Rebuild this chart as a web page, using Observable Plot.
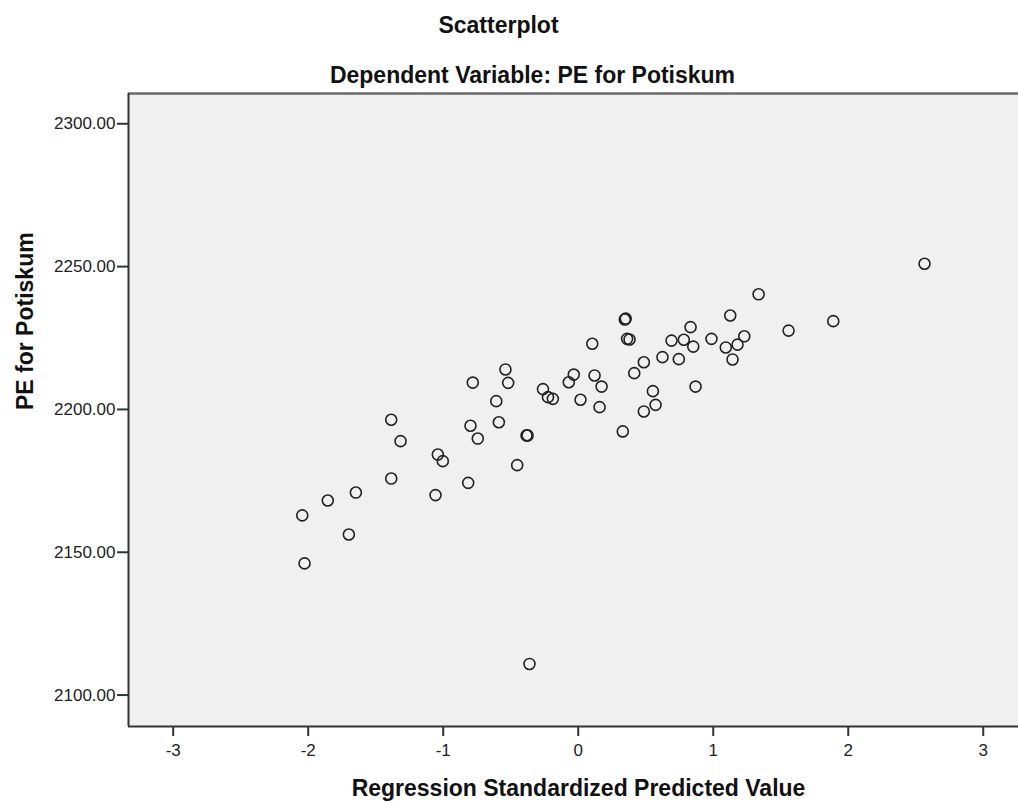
<!DOCTYPE html>
<html>
<head>
<meta charset="utf-8">
<script src="https://cdn.jsdelivr.net/npm/d3@7"></script>
<script src="https://cdn.jsdelivr.net/npm/@observablehq/plot@0.6"></script>
<style>
  html, body { margin: 0; padding: 0; background: #fff; }
</style>
</head>
<body>
<div id="chart"></div>
<script>
// Regression standardized predicted value (x) and PE for Potiskum (y)
const predicted = [
  2.565, 1.336, 1.126, 1.889, 1.558, 0.987, 1.230, 1.093, 1.180, 1.143,
  0.869, 0.345, 0.352, 0.104, 0.362, 0.380, 0.832, 0.691, 0.782, 0.852,
  0.624, 0.745, 0.486, 0.415, -0.033, -0.070, 0.121, 0.173, 0.553, 0.017,
  0.158, 0.573, 0.486, 0.330, -0.539, -0.781, -0.519, -0.607, -0.261, -0.224,
  -0.188, -1.385, -1.316, -0.798, -0.744, -0.588, -0.383, -0.375, -1.040, -1.003,
  -0.452, -1.385, -0.815, -1.057, -1.647, -1.855, -2.044, -1.699, -2.027, -0.361
];
const pe = [
  2251.0, 2240.3, 2232.9, 2230.9, 2227.6, 2224.7, 2225.6, 2221.7, 2222.7, 2217.5,
  2208.0, 2231.5, 2231.8, 2223.0, 2224.7, 2224.5, 2228.8, 2224.1, 2224.4, 2222.0,
  2218.3, 2217.6, 2216.5, 2212.7, 2212.2, 2209.5, 2211.9, 2208.0, 2206.4, 2203.4,
  2200.8, 2201.6, 2199.3, 2192.3, 2214.0, 2209.4, 2209.3, 2202.9, 2207.1, 2204.3,
  2203.7, 2196.4, 2188.9, 2194.3, 2189.8, 2195.5, 2190.9, 2190.9, 2184.2, 2181.9,
  2180.5, 2175.8, 2174.3, 2170.0, 2170.9, 2168.1, 2162.9, 2156.2, 2146.1, 2110.9
];
const xTicks = [-3, -2, -1, 0, 1, 2, 3];
const yTicks = [2100, 2150, 2200, 2250, 2300];
const xDomain = [-3.331, 3.261];
const yDomain = [2089.0, 2310.6];
const title = "Scatterplot";
const subtitle = "Dependent Variable: PE for Potiskum";
const xLabel = "Regression Standardized Predicted Value";
const yLabel = "PE for Potiskum";

const data = predicted.map((x, i) => ({x, y: pe[i]}));
const font = "'Liberation Sans', Arial, sans-serif";

const chart = Plot.plot({
  width: 1018,
  height: 802,
  marginTop: 93,
  marginRight: 0,
  marginBottom: 76,
  marginLeft: 128,
  style: {fontFamily: font, background: "#fff", color: "#222"},
  x: {domain: xDomain},
  y: {domain: yDomain},
  marks: [
    Plot.frame({fill: "#f0f0f0", stroke: null}),
    Plot.ruleY([yDomain[1]], {stroke: "#6a6a6a", strokeWidth: 2.5}),
    Plot.axisX({ticks: xTicks, tickSize: 10, tickPadding: 7, fontSize: 17, label: null, tickFormat: d => String(d), stroke: "#333", strokeWidth: 2, strokeOpacity: 1, fill: "#222"}),
    Plot.axisY({ticks: yTicks, tickSize: 11, tickPadding: 2, fontSize: 17, label: null, tickFormat: d => d.toFixed(2), stroke: "#333", strokeWidth: 2, strokeOpacity: 1, fill: "#222"}),
    Plot.ruleY([yDomain[0]], {stroke: "#333", strokeWidth: 2}),
    Plot.ruleX([xDomain[0]], {stroke: "#333", strokeWidth: 2}),
    Plot.dot(data, {x: "x", y: "y", r: 5.5, stroke: "#222", strokeWidth: 1.6, fill: "none"}),
    Plot.text([title], {frameAnchor: "top", text: d => d, dx: -75, dy: -61, lineAnchor: "bottom", fontSize: 23, fontWeight: "bold", fill: "#111"}),
    Plot.text([subtitle], {frameAnchor: "top", text: d => d, dx: -41, dy: -11, lineAnchor: "bottom", fontSize: 23, fontWeight: "bold", fill: "#111"}),
    Plot.text([xLabel], {frameAnchor: "bottom", text: d => d, dx: 5, dy: 69, lineAnchor: "bottom", fontSize: 23, fontWeight: "bold", fill: "#111"}),
    Plot.text([yLabel], {frameAnchor: "left", text: d => d, dx: -96, dy: 0, rotate: -90, lineAnchor: "bottom", fontSize: 23, fontWeight: "bold", fill: "#111"})
  ]
});
document.getElementById("chart").appendChild(chart);
</script>
</body>
</html>
